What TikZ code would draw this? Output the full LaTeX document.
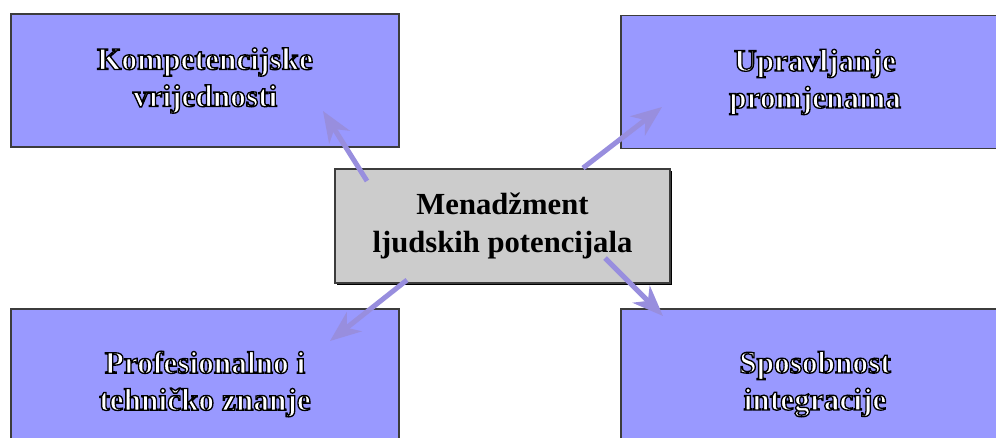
\documentclass[tikz,border=0pt]{standalone}
\usepackage{fontspec}
\setmainfont{Liberation Serif}
\usetikzlibrary{arrows.meta,shadows}
\definecolor{boxblue}{RGB}{153,153,255}
\definecolor{boxgray}{RGB}{204,204,204}
\definecolor{boxline}{RGB}{60,60,60}
\definecolor{arrowlila}{RGB}{152,142,222}
% white letters with a black outline (text render mode 2)
\newcommand{\outl}[1]{\special{pdf:literal direct 2 Tr 1 w 0 0 0 RG}#1\special{pdf:literal direct 0 Tr}}
\tikzset{
    every node/.style={rectangle, draw=boxline, line width=1.2pt, align=center}
}
\tikzset{
    blue box/.style={fill=boxblue, text=white, minimum width=291pt,
        minimum height=99.75pt, font=\fontsize{23.5}{27.75}\selectfont\bfseries},
    gray box/.style={fill=boxgray, minimum width=251.25pt, minimum height=85.5pt,
        font=\fontsize{23}{28.5}\selectfont\bfseries,
        drop shadow={shadow xshift=1.6pt, shadow yshift=-1.6pt, fill=black, opacity=1}}
}
\tikzset{
    every edge/.append style={line width=3.75pt, draw=arrowlila,
        -{Stealth[length=23pt,width=18pt,inset=7pt]}}
}

\begin{document}
\begin{tikzpicture}[x=0.75pt,y=-0.75pt]
	\useasboundingbox (0,0) rectangle (996,437);
	\node (1) [blue box] at (205,80.5) {\outl{Kompetencijske}\\\outl{vrijednosti}};
	\node (2) [blue box] at (815,82) {\outl{Upravljanje}\\\outl{promjenama}};
	\node (3) [blue box, minimum height=112.5pt] at (205,384) {\outl{Profesionalno i}\\\outl{tehničko znanje}};
	\node (4) [blue box, minimum height=112.5pt] at (815,384) {\outl{Sposobnost}\\\outl{integracije}};
	\node (5) [gray box] at (502.5,226) {Menadžment\\ljudskih potencijala};
	
	\coordinate (t1) at (367,181); \coordinate (h1) at (323,111);
	\coordinate (t2) at (583,168); \coordinate (h2) at (662,107);
	\coordinate (t3) at (407,280); \coordinate (h3) at (330,341);
	\coordinate (t4) at (605,258); \coordinate (h4) at (663,316);
	
	\draw (t1) edge (h1); \draw (t2) edge (h2);
	\draw (t3) edge (h3); \draw (t4) edge (h4);
\end{tikzpicture}
\end{document}
